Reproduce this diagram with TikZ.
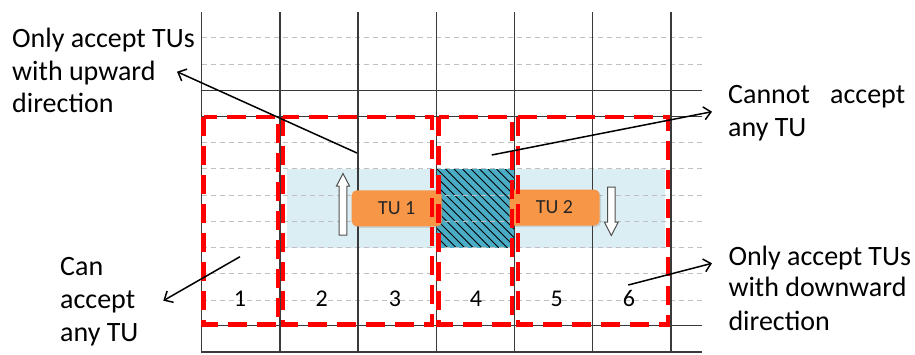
\documentclass[tikz,border=0pt]{standalone}
\usepackage{fontspec}
\setmainfont{Carlito}
\usetikzlibrary{arrows.meta,shadows}
\definecolor{gridc}{HTML}{3A3A3A}
\definecolor{dashc}{HTML}{BFBFBF}
\definecolor{lblue}{HTML}{DAEEF3}
\definecolor{teal5}{HTML}{4BACC6}
\definecolor{orng}{HTML}{F79646}
\definecolor{tutext}{HTML}{262626}
\definecolor{arrowc}{HTML}{505050}
\tikzset{
  gridline/.style={draw=gridc, line width=1.5pt},
  dashline/.style={draw=dashc, line width=1pt, dash pattern=on 5pt off 4pt},
  redbox/.style={draw=red, line width=4.3pt, dash pattern=on 19pt off 10pt},
  hatchline/.style={draw=black, line width=0.8pt},
  tubox/.style={fill=orng, rounded corners=5pt, minimum width=90pt, minimum height=36pt,
    inner sep=0pt, font=\fontsize{20}{24}\selectfont, text=tutext,
    drop shadow={shadow xshift=1.5pt, shadow yshift=-1.5pt, opacity=0.25}},
  blockarrow/.style={draw=arrowc, fill=white, line width=1pt},
  lbl/.style={anchor=base west, inner sep=0pt, font=\fontsize{28}{33}\selectfont},
  numlbl/.style={anchor=base, inner sep=0pt, font=\fontsize{24}{28}\selectfont},
  pointer/.style={draw=black, line width=1.5pt, -{Straight Barb[length=7pt,width=13pt]}}
}
\begin{document}
\begin{tikzpicture}[x=1pt,y=-1pt]
\useasboundingbox[fill=white] (0,0) rectangle (915,354);
% light blue band
\fill[lblue] (286.7,169) rectangle (665,247.5);
% hatched cell
\fill[teal5] (437,169) rectangle (514.5,247.5);
\begin{scope}
  \clip (437,169) rectangle (514.5,247.5);
  \foreach \k in {-10,...,10} \draw[hatchline] (437+\k*8.5,169) -- ++(80,80);
\end{scope}
% dashed grid lines
\foreach \yy in {37.9,64,142.7,168.9,195,221.3,247.5,273.7,300}
  \draw[dashline] (202,\yy) -- (702,\yy);
% solid horizontal lines
\foreach \yy in {90.3,116.7,325.5,352}
  \draw[gridline] (201.7,\yy) -- (702,\yy);
% vertical lines
\foreach \i in {0,...,6}
  \draw[gridline] (201.7+78.2*\i,12) -- (201.7+78.2*\i,352.6);
% TU boxes
\node[tubox] (tu1) at (396.7,208.3) {TU 1};
\node[tubox] (tu2) at (554.5,207.5) {TU 2};
% block arrows
\draw[blockarrow] (339.2,235) -- (339.2,186) -- (336.5,186) -- (343,173.5) -- (349.5,186) -- (346.8,186) -- (346.8,235) -- cycle;
\draw[blockarrow] (607.6,187) -- (607.6,222) -- (604.3,222) -- (611.3,235.5) -- (618.3,222) -- (615,222) -- (615,187) -- cycle;
% red dashed boxes
\draw[redbox] (203.5,117) rectangle (278.3,324.5);
\draw[redbox] (283,117) rectangle (431.7,324.5);
\draw[redbox] (438.5,117) rectangle (511.7,324.5);
\draw[redbox] (518.3,117) rectangle (668.3,324.5);
% column numbers
\node[numlbl] (n1) at (240,306.5) {1};
\node[numlbl] (n2) at (321.7,306.5) {2};
\node[numlbl] (n3) at (395,306.5) {3};
\node[numlbl] (n4) at (476,306.5) {4};
\node[numlbl] (n5) at (556.7,306.5) {5};
\node[numlbl] (n6) at (629,306.5) {6};
% texts
\node[lbl] (ta1) at (12,47) {Only accept TUs};
\node[lbl] (ta2) at (12,80) {with upward};
\node[lbl] (ta3) at (12,112) {direction};
\node[lbl] (tb1) at (728,103.3) {\hbox to 177pt{Cannot\hfill accept}};
\node[lbl] (tb2) at (728,136.7) {any TU};
\node[lbl] (tc1) at (60,275) {Can};
\node[lbl] (tc2) at (60,308.3) {accept};
\node[lbl] (tc3) at (60,341.7) {any TU};
\node[lbl] (td1) at (728.3,265) {Only accept TUs};
\node[lbl] (td2) at (728.3,296.7) {with downward};
\node[lbl] (td3) at (728.3,330) {direction};
% pointer arrows
\coordinate (p1s) at (357,153);   \coordinate (p1e) at (177,71.7);
\coordinate (p2s) at (491.7,155); \coordinate (p2e) at (712,111.7);
\coordinate (p3s) at (240,256.7); \coordinate (p3e) at (163.3,300.7);
\coordinate (p4s) at (628.3,285); \coordinate (p4e) at (712,263.3);
\draw[pointer] (p1s) -- (p1e);
\draw[pointer] (p2s) -- (p2e);
\draw[pointer] (p3s) -- (p3e);
\draw[pointer] (p4s) -- (p4e);
\end{tikzpicture}
\end{document}
